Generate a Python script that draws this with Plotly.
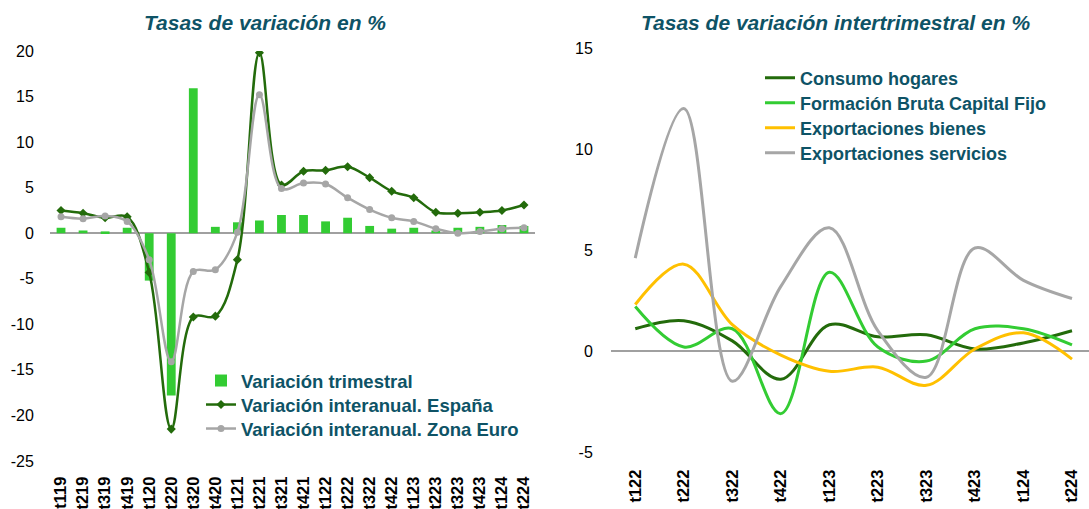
import plotly.graph_objects as go

# ---------------- data ----------------
quarters_left = ["t119", "t219", "t319", "t419", "t120", "t220", "t320", "t420",
                 "t121", "t221", "t321", "t421", "t122", "t222", "t322", "t422",
                 "t123", "t223", "t323", "t423", "t124", "t224"]
var_trimestral = [0.6, 0.3, 0.2, 0.6, -5.2, -17.8, 15.9, 0.7,
                  1.2, 1.4, 2.0, 2.0, 1.3, 1.7, 0.8, 0.5,
                  0.6, 0.3, 0.6, 0.7, 0.9, 0.8]
interanual_espana = [2.5, 2.2, 1.7, 1.8, -4.3, -21.5, -9.2, -9.1,
                     -2.9, 19.8, 5.3, 6.8, 6.9, 7.3, 6.1, 4.6,
                     3.9, 2.3, 2.2, 2.3, 2.5, 3.1]
interanual_zona_euro = [1.8, 1.6, 1.9, 1.3, -2.9, -14.1, -4.2, -4.0,
                        0.1, 15.2, 4.9, 5.5, 5.4, 3.9, 2.6, 1.7,
                        1.3, 0.5, 0.0, 0.2, 0.5, 0.6]

quarters_right = ["t122", "t222", "t322", "t422", "t123", "t223", "t323", "t423", "t124", "t224"]
consumo_hogares = [1.1, 1.5, 0.5, -1.4, 1.3, 0.7, 0.8, 0.1, 0.4, 1.0]
fbcf = [2.2, 0.2, 1.1, -3.1, 3.9, 0.2, -0.5, 1.1, 1.1, 0.3]
export_bienes = [2.3, 4.3, 1.3, -0.2, -1.0, -0.8, -1.7, 0.1, 0.9, -0.4]
export_servicios = [4.6, 12.0, -1.5, 3.2, 6.1, 1.0, -1.3, 5.1, 3.5, 2.6]

left_ticks = [-25, -20, -15, -10, -5, 0, 5, 10, 15, 20]
left_tick_labels = ["-25", "-20", "-15", "-10", "-5", "0", "5", "10", "15", "20"]
right_ticks = [-5, 0, 5, 10, 15]
right_tick_labels = ["-5", "0", "5", "10", "15"]

# ---------------- style ----------------
W, H = 1089, 509
FONT = "Liberation Sans, Arial, sans-serif"
TEAL = "#0E5366"
BAR_GREEN = "#33CC33"
DARK_GREEN = "#236B0B"
GREY = "#A6A6A6"
YELLOW = "#FFC000"


def px_x(p):
    return p / W


def px_y(p):
    return 1 - p / H


fig = go.Figure()

# left chart
fig.add_trace(go.Bar(x=quarters_left, y=var_trimestral, name="Variación trimestral",
                     marker=dict(color=BAR_GREEN, line=dict(width=0)), width=0.4,
                     xaxis="x", yaxis="y", legend="legend"))
fig.add_trace(go.Scatter(x=quarters_left, y=interanual_espana, name="Variación interanual. España",
                         mode="lines+markers", line=dict(color=DARK_GREEN, width=2.5, shape="spline", smoothing=1),
                         marker=dict(symbol="diamond", size=7, color=DARK_GREEN),
                         xaxis="x", yaxis="y", legend="legend2"))
fig.add_trace(go.Scatter(x=quarters_left, y=interanual_zona_euro, name="Variación interanual. Zona Euro",
                         mode="lines+markers", line=dict(color=GREY, width=2.5, shape="spline", smoothing=1),
                         marker=dict(symbol="circle", size=7, color=GREY),
                         xaxis="x", yaxis="y", legend="legend3"))

# right chart
right_series = [("Consumo hogares", consumo_hogares, DARK_GREEN, "legend4"),
                ("Formación Bruta Capital Fijo", fbcf, BAR_GREEN, "legend5"),
                ("Exportaciones bienes", export_bienes, YELLOW, "legend6"),
                ("Exportaciones servicios", export_servicios, GREY, "legend7")]
for name, vals, col, leg in right_series:
    fig.add_trace(go.Scatter(x=quarters_right, y=vals, name=name, mode="lines",
                             line=dict(color=col, width=3, shape="spline", smoothing=1),
                             xaxis="x2", yaxis="y2", legend=leg))

tick_font = dict(family=FONT, size=16, color="#000000")
xtick_font = dict(family=FONT, size=16.5, color="#000000", weight="bold")
legend_font_l = dict(family=FONT, size=18.5, color=TEAL, weight="bold")
legend_font_r = dict(family=FONT, size=18, color=TEAL, weight="bold")

left_x0, left_x1 = 50, 535
right_x0 = 611
right_step = 48.5
right_end = 9 + (W - 1072) / right_step  # categories extend past the window edge


def legend_at(xpix, ypix, font):
    return dict(x=px_x(xpix), y=px_y(ypix), xanchor="left", yanchor="middle",
                font=font, bgcolor="rgba(0,0,0,0)", itemwidth=30)


fig.update_layout(
    width=W, height=H,
    margin=dict(l=0, r=0, t=0, b=0, autoexpand=False),
    paper_bgcolor="white", plot_bgcolor="white",
    showlegend=True,
    xaxis=dict(domain=[px_x(left_x0), px_x(left_x1)], anchor="y", type="category",
               range=[-0.5, len(quarters_left) - 0.5], tickangle=-90, tickfont=xtick_font,
               showgrid=False, showline=False, zeroline=False, automargin=False,
               ticks="outside", ticklen=8, tickcolor="rgba(0,0,0,0)"),
    yaxis=dict(domain=[px_y(461), px_y(51)], anchor="x", range=[-25, 20],
               tickvals=left_ticks, ticktext=left_tick_labels, tickfont=tick_font,
               showgrid=False, showline=False, automargin=False,
               zeroline=True, zerolinecolor="#A0A0A0", zerolinewidth=1.5,
               ticks="outside", ticklen=12, tickcolor="rgba(0,0,0,0)"),
    xaxis2=dict(domain=[px_x(right_x0), 1.0], anchor="y2", type="category",
                range=[-0.5, right_end], tickangle=-90, tickfont=xtick_font,
                showgrid=False, showline=False, zeroline=False, automargin=False,
                ticks="outside", ticklen=10, tickcolor="rgba(0,0,0,0)"),
    yaxis2=dict(domain=[px_y(452), px_y(48)], anchor="x2", range=[-5, 15],
                tickvals=right_ticks, ticktext=right_tick_labels, tickfont=tick_font,
                showgrid=False, showline=False, automargin=False,
                zeroline=True, zerolinecolor="#A0A0A0", zerolinewidth=1.5,
                ticks="outside", ticklen=14, tickcolor="rgba(0,0,0,0)"),
    legend=legend_at(201, 381, legend_font_l),
    legend2=legend_at(201, 405, legend_font_l),
    legend3=legend_at(201, 429, legend_font_l),
    legend4=legend_at(760, 78, legend_font_r),
    legend5=legend_at(760, 103, legend_font_r),
    legend6=legend_at(760, 128, legend_font_r),
    legend7=legend_at(760, 153, legend_font_r),
    annotations=[
        dict(text="<b><i>Tasas de variación en %</i></b>", x=px_x(265), y=px_y(22),
             xref="paper", yref="paper", xanchor="center", yanchor="middle", showarrow=False,
             font=dict(family=FONT, size=21, color=TEAL)),
        dict(text="<b><i>Tasas de variación intertrimestral en %</i></b>", x=px_x(836), y=px_y(22),
             xref="paper", yref="paper", xanchor="center", yanchor="middle", showarrow=False,
             font=dict(family=FONT, size=21, color=TEAL)),
    ],
)

# remove the default page margin so the figure sits at the window's top-left corner
fig.write_html("out.html", config={"displayModeBar": False},
               post_script="document.body.style.margin='0px';document.body.style.overflow='hidden';")
